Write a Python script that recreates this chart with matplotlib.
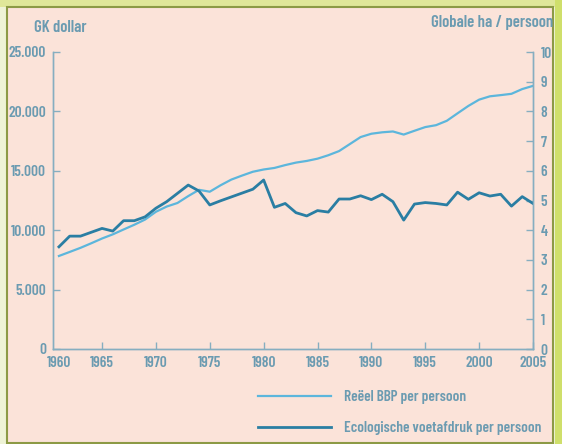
import matplotlib
matplotlib.use('Agg')
import matplotlib.pyplot as plt
from matplotlib.patches import Rectangle

plt.rcParams['font.family'] = ['Barlow Condensed', 'DejaVu Sans']

# data
years = list(range(1961, 2006))
bbp = [7830, 8170, 8515, 8900, 9300, 9650, 10060, 10460, 10900, 11550,
       11990, 12290, 12870, 13400, 13240, 13780, 14260, 14600, 14920, 15110,
       15240, 15480, 15690, 15830, 16020, 16310, 16660, 17250, 17840, 18120,
       18240, 18310, 18050, 18370, 18680, 18840, 19210, 19840, 20460, 20990,
       21270, 21370, 21480, 21880, 22150]
voetafdruk = [3.44, 3.80, 3.80, 3.93, 4.06, 3.97, 4.32, 4.32, 4.45, 4.74,
              4.96, 5.24, 5.52, 5.32, 4.85, 4.99, 5.12, 5.25, 5.38, 5.69,
              4.77, 4.90, 4.59, 4.48, 4.66, 4.61, 5.05, 5.05, 5.16, 5.03,
              5.21, 4.96, 4.34, 4.88, 4.93, 4.90, 4.85, 5.28, 5.04, 5.26,
              5.15, 5.21, 4.81, 5.13, 4.90]

xtick_pos = [1961, 1965, 1970, 1975, 1980, 1985, 1990, 1995, 2000, 2005]
xtick_lab = ['1960', '1965', '1970', '1975', '1980', '1985', '1990', '1995', '2000', '2005']
ltick_pos = [0, 5000, 10000, 15000, 20000, 25000]
ltick_lab = ['0', '5.000', '10.000', '15.000', '20.000', '25.000']
rtick_pos = list(range(0, 11))

# colours
txt_col = '#6b9bb1'
axis_col = '#86aec0'
light_col = '#5cb6dc'
dark_col = '#2a7ea3'

fig = plt.figure(figsize=(5.62, 4.44), dpi=100, facecolor='#eef3d6')
W, H = 562, 444

def fx(px):
    return px / W

def fy(py):
    return 1 - py / H

# frame: green strips + pink panel
fig.patches.append(Rectangle((0, fy(7)), 1, 7 / H, transform=fig.transFigure,
                             facecolor='#dfe799', edgecolor='none', zorder=-3))
fig.patches.append(Rectangle((fx(555), 0), 7 / W, 1, transform=fig.transFigure,
                             facecolor='#cfdf6b', edgecolor='none', zorder=-3))
fig.patches.append(Rectangle((fx(7), fy(443)), fx(553) - fx(7), fy(7) - fy(443),
                             transform=fig.transFigure, facecolor='#fbe3d9',
                             edgecolor='#8c9a45', linewidth=1.5, zorder=-2))

ax = fig.add_axes([fx(53), fy(349), fx(533) - fx(53), fy(52) - fy(349)])
ax.set_facecolor('none')
ax2 = ax.twinx()
ax2.set_facecolor('none')

l1, = ax.plot(years, bbp, color=light_col, lw=1.6, label='Reëel BBP per persoon')
l2, = ax2.plot(years, voetafdruk, color=dark_col, lw=2.0,
               label='Ecologische voetafdruk per persoon')

ax.set_xlim(1960.45, 2005)
ax.set_ylim(0, 25000)
ax2.set_ylim(0, 10)

for a in (ax, ax2):
    a.spines['top'].set_visible(False)
    for s in ('left', 'right', 'bottom'):
        a.spines[s].set_color(axis_col)
        a.spines[s].set_linewidth(1.0)

ax.set_xticks(xtick_pos)
ax.set_xticklabels(xtick_lab)
ax.set_yticks(ltick_pos)
ax.set_yticklabels(ltick_lab)
ax2.set_yticks(rtick_pos)
ax2.set_yticklabels([str(v) for v in rtick_pos])

ax.tick_params(axis='both', direction='in', length=5, width=1, color=axis_col,
               labelcolor=txt_col, labelsize=11, pad=5)
ax.tick_params(axis='x', pad=5)
ax2.tick_params(axis='y', direction='in', length=5, width=1, color=axis_col,
                labelcolor=txt_col, labelsize=11, pad=5.5)
ax.xaxis.get_major_ticks()[0].tick1line.set_visible(False)

for lab in ax.get_xticklabels() + ax.get_yticklabels() + ax2.get_yticklabels():
    lab.set_fontweight(600)

fig.text(fx(34), fy(27), 'GK dollar', color=txt_col, fontsize=12,
         fontweight=600, ha='left', va='center')
fig.text(fx(553), fy(23), 'Globale ha / persoon', color=txt_col, fontsize=12,
         fontweight=600, ha='right', va='center')

leg = fig.legend(handles=[l1, l2], loc='upper left',
                 bbox_to_anchor=(fx(258), fy(390)), frameon=False,
                 handlelength=4.8, handletextpad=0.85, labelspacing=1.12,
                 borderpad=0, borderaxespad=0,
                 prop={'size': 11, 'weight': 600})
for t in leg.get_texts():
    t.set_color(txt_col)

fig.savefig('out.png', dpi=100, facecolor=fig.get_facecolor())
